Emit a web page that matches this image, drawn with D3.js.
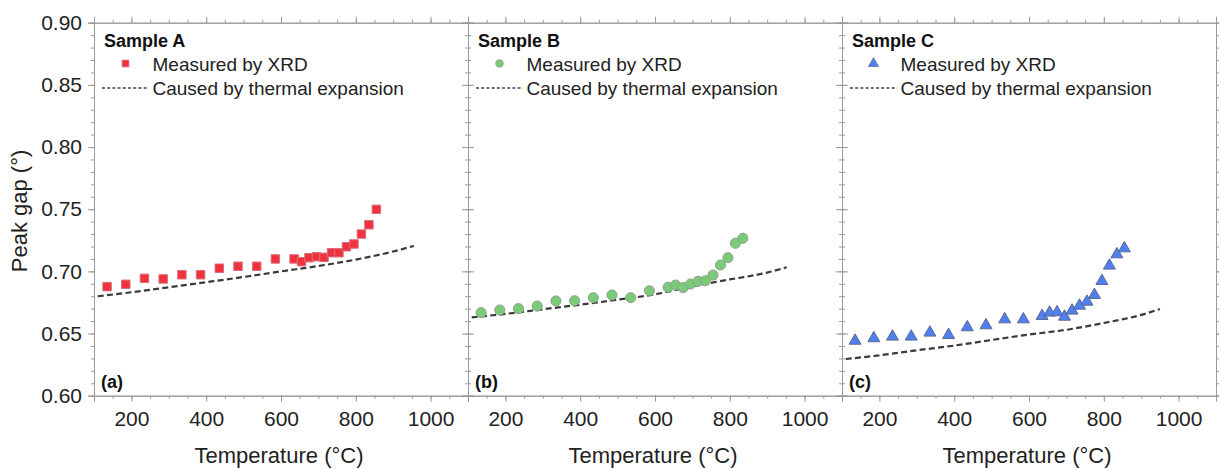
<!DOCTYPE html>
<html>
<head>
<meta charset="utf-8">
<script src="https://cdn.jsdelivr.net/npm/d3@7"></script>
<style>
  html, body { margin: 0; padding: 0; background: #fff; }
  svg { display: block; font-family: "Liberation Sans", Arial, sans-serif; }
</style>
</head>
<body>
<svg id="chart" width="1219" height="469"></svg>
<script>
// ---------------- DATA ----------------
const sampleNames = ["Sample A", "Sample B", "Sample C"];
const panelLabels = ["(a)", "(b)", "(c)"];
const legendMeasured = "Measured by XRD";
const legendThermal = "Caused by thermal expansion";
const xTickValues = [200, 400, 600, 800, 1000];
const yTickValues = [0.60, 0.65, 0.70, 0.75, 0.80, 0.85, 0.90];
const xTitle = "Temperature (°C)";
const yTitle = "Peak gap (°)";

// Sample A — measured (red squares)
const tempA = [135, 185, 235, 285, 335, 385, 435, 485, 535, 585, 635, 655, 675, 695, 715, 735, 755, 775, 795, 815, 835, 855];
const gapA  = [0.6877, 0.6896, 0.6944, 0.6939, 0.6973, 0.6973, 0.7025, 0.7041, 0.7041, 0.7100, 0.7100, 0.7078, 0.7110, 0.7118, 0.7113, 0.7150, 0.7150, 0.7198, 0.7220, 0.7300, 0.7375, 0.7499];
// Sample A — thermal expansion (dashed)
const thermTempA = [110, 200, 300, 400, 500, 600, 700, 800, 900, 955];
const thermGapA  = [0.6800, 0.6832, 0.6872, 0.6913, 0.6955, 0.7000, 0.7043, 0.7095, 0.7160, 0.7205];

// Sample B — measured (green circles)
const tempB = [135, 185, 235, 285, 335, 385, 435, 485, 535, 585, 635, 655, 675, 695, 715, 735, 755, 775, 795, 815, 835];
const gapB  = [0.6668, 0.6689, 0.6700, 0.6721, 0.6762, 0.6764, 0.6788, 0.6810, 0.6788, 0.6844, 0.6872, 0.6890, 0.6869, 0.6898, 0.6920, 0.6925, 0.6970, 0.7051, 0.7110, 0.7226, 0.7266];
// Sample B — thermal expansion (dashed)
const thermTempB = [110, 200, 300, 400, 500, 600, 700, 800, 900, 952];
const thermGapB  = [0.6630, 0.6658, 0.6695, 0.6732, 0.6772, 0.6815, 0.6880, 0.6935, 0.6990, 0.7033];

// Sample C — measured (blue triangles)
const tempC = [135, 185, 235, 285, 335, 385, 435, 485, 535, 585, 635, 655, 675, 695, 715, 735, 755, 775, 795, 815, 835, 855];
const gapC  = [0.6442, 0.6462, 0.6475, 0.6475, 0.6507, 0.6488, 0.6550, 0.6566, 0.6614, 0.6614, 0.6641, 0.6668, 0.6671, 0.6635, 0.6684, 0.6724, 0.6756, 0.6810, 0.6922, 0.7046, 0.7137, 0.7185];
// Sample C — thermal expansion (dashed)
const thermTempC = [110, 200, 300, 400, 500, 600, 700, 800, 900, 950];
const thermGapC  = [0.6295, 0.6325, 0.6365, 0.6403, 0.6448, 0.6492, 0.6530, 0.6585, 0.6650, 0.6697];

// ---------------- LAYOUT ----------------
const svg = d3.select("#chart");
const panelW = 374;
const panelLefts = [94, 468, 842];
const plotTop = 22.7, plotBottom = 395.7;
const xDomain = [100, 1100];
const yDomain = [0.60, 0.90];

const y = d3.scaleLinear().domain(yDomain).range([plotBottom, plotTop]);

const markerStyles = [
  { shape: d3.symbolSquare, size: 72, legendSize: 46, fill: "#f0323f", stroke: "#d8707a" },
  { shape: d3.symbolCircle, size: 80, legendSize: 46, fill: "#7acb77", stroke: "#8f9f8f" },
  { shape: d3.symbolTriangle, size: 62, legendSize: 44, fill: "#4f7ff0", stroke: "#5a6a90" }
];

const measured = [
  { t: tempA, g: gapA, tt: thermTempA, tg: thermGapA },
  { t: tempB, g: gapB, tt: thermTempB, tg: thermGapB },
  { t: tempC, g: gapC, tt: thermTempC, tg: thermGapC }
];

const frameColor = "#9a9a9a";
const textColor = "#222";

const xMinor = d3.range(100, 1101, 50);
const yMinor = d3.range(60, 91, 1).map(d => d / 100);

function styleAxis(g) {
  g.selectAll("path.domain").attr("stroke", frameColor).attr("stroke-width", 1);
  g.selectAll(".tick line").attr("stroke", frameColor).attr("stroke-width", 1);
  g.selectAll(".tick text").attr("fill", textColor)
    .attr("font-family", "'Liberation Sans', Arial, sans-serif");
}

measured.forEach((ds, i) => {
  const left = panelLefts[i];
  const x = d3.scaleLinear().domain(xDomain).range([left, left + panelW]);
  const g = svg.append("g");

  // minor ticks
  const bMinor = g.append("g").attr("transform", `translate(0,${plotBottom})`)
    .call(d3.axisBottom(x).tickValues(xMinor).tickSize(3).tickFormat(""));
  styleAxis(bMinor);
  const tMinor = g.append("g").attr("transform", `translate(0,${plotTop})`)
    .call(d3.axisTop(x).tickValues(xMinor).tickSize(3).tickFormat(""));
  styleAxis(tMinor);
  const lMinor = g.append("g").attr("transform", `translate(${left},0)`)
    .call(d3.axisLeft(y).tickValues(yMinor).tickSize(3).tickFormat(""));
  styleAxis(lMinor);
  const rMinor = g.append("g").attr("transform", `translate(${left + panelW},0)`)
    .call(d3.axisRight(y).tickValues(yMinor).tickSize(3).tickFormat(""));
  styleAxis(rMinor);

  // major ticks
  const bAxis = g.append("g").attr("transform", `translate(0,${plotBottom})`)
    .call(d3.axisBottom(x).tickValues(xTickValues).tickSize(6).tickPadding(9).tickFormat(d3.format("d")));
  styleAxis(bAxis);
  bAxis.selectAll(".tick text").attr("font-size", 21);
  const tAxis = g.append("g").attr("transform", `translate(0,${plotTop})`)
    .call(d3.axisTop(x).tickValues(xTickValues).tickSize(6).tickFormat(""));
  styleAxis(tAxis);
  const lAxis = g.append("g").attr("transform", `translate(${left},0)`)
    .call(d3.axisLeft(y).tickValues(yTickValues).tickSize(6).tickPadding(6)
      .tickFormat(i === 0 ? d3.format(".2f") : ""));
  styleAxis(lAxis);
  lAxis.selectAll(".tick text").attr("font-size", 21);
  const rAxis = g.append("g").attr("transform", `translate(${left + panelW},0)`)
    .call(d3.axisRight(y).tickValues(yTickValues).tickSize(6).tickFormat(""));
  styleAxis(rAxis);

  // thermal-expansion dashed line
  const line = d3.line().x((d, k) => x(ds.tt[k])).y(d => y(d)).curve(d3.curveMonotoneX);
  g.append("path")
    .datum(ds.tg)
    .attr("d", line)
    .attr("fill", "none")
    .attr("stroke", "#3a3a3a")
    .attr("stroke-width", 2.2)
    .attr("stroke-dasharray", "6,3.3");

  // measured markers
  const ms = markerStyles[i];
  const sym = d3.symbol().type(ms.shape).size(ms.size);
  g.selectAll("path.pt")
    .data(ds.g)
    .join("path")
    .attr("class", "pt")
    .attr("d", sym)
    .attr("transform", (d, k) => `translate(${x(ds.t[k])},${y(d)})`)
    .attr("fill", ms.fill)
    .attr("stroke", ms.stroke)
    .attr("stroke-width", 1);

  // legend
  g.append("text")
    .attr("x", left + 10).attr("y", 46.5)
    .attr("font-size", 18).attr("font-weight", "bold").attr("fill", "#111")
    .text(sampleNames[i]);
  g.append("path")
    .attr("d", d3.symbol().type(ms.shape).size(ms.legendSize)())
    .attr("transform", `translate(${left + 31.5},63.5)`)
    .attr("fill", ms.fill).attr("stroke", ms.stroke).attr("stroke-width", 0.8);
  g.append("text")
    .attr("x", left + 58.5).attr("y", 70.5)
    .attr("font-size", 19).attr("fill", textColor)
    .text(legendMeasured);
  g.append("line")
    .attr("x1", left + 8).attr("x2", left + 55)
    .attr("y1", 88).attr("y2", 88)
    .attr("stroke", "#444").attr("stroke-width", 1.5)
    .attr("stroke-dasharray", "3,2.2");
  g.append("text")
    .attr("x", left + 58.5).attr("y", 95)
    .attr("font-size", 19).attr("fill", textColor)
    .text(legendThermal);

  // panel label
  g.append("text")
    .attr("x", left + 7).attr("y", 388)
    .attr("font-size", 18).attr("font-weight", "bold").attr("fill", "#111")
    .text(panelLabels[i]);

  // x title
  g.append("text")
    .attr("x", left + panelW / 2 - 2).attr("y", 463)
    .attr("text-anchor", "middle")
    .attr("font-size", 22).attr("fill", textColor)
    .text(xTitle);
});

// y title
svg.append("text")
  .attr("transform", `translate(27,211) rotate(-90)`)
  .attr("text-anchor", "middle")
  .attr("font-size", 22).attr("fill", textColor)
  .text(yTitle);
</script>
</body>
</html>
